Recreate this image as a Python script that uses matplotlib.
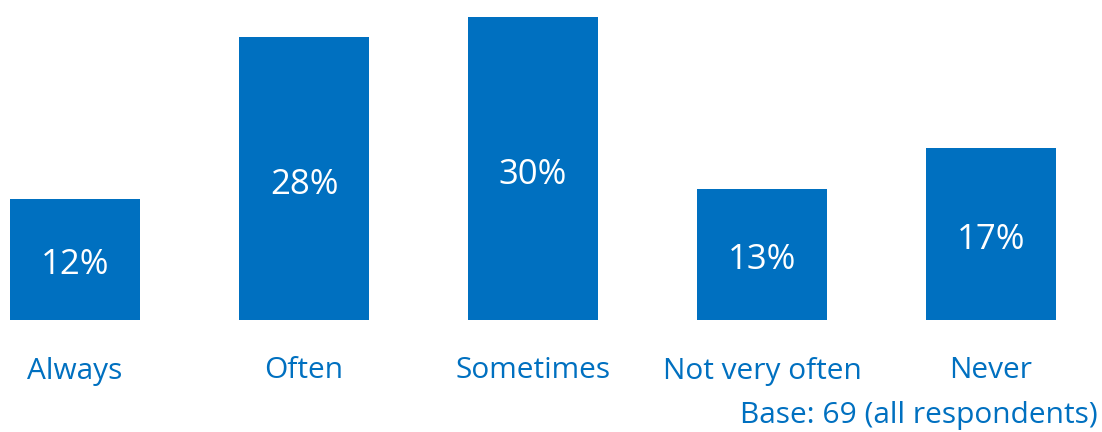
import matplotlib
matplotlib.use("Agg")
import matplotlib.pyplot as plt

# ── Data ────────────────────────────────────────────────────
categories = ["Always", "Often", "Sometimes", "Not very often", "Never"]
values     = [12, 28, 30, 13, 17]
base_note  = "Base: 69 (all respondents)"

BLUE = "#0070C0"
plt.rcParams["font.family"] = ["Open Sans", "DejaVu Sans"]

# ── Plot ────────────────────────────────────────────────────
W, H = 1102, 432
fig = plt.figure(figsize=(W / 100, H / 100), dpi=100)
ax = fig.add_axes([10 / W, 112 / H, 1046 / W, 303 / H])

x = list(range(len(categories)))
bw = 0.568
ax.bar(x, values, width=bw, color=BLUE)
ax.set_xlim(-bw / 2, len(categories) - 1 + bw / 2)
ax.set_ylim(0, 30)

for xi, v in zip(x, values):
    ax.annotate(f"{v}%", (xi, v / 2), xytext=(0, -6), textcoords="offset pixels",
                ha="center", va="center", color="white", fontsize=25)

for xi, cat in zip(x, categories):
    ax.annotate(cat, (xi, 0), xytext=(0, -51), textcoords="offset pixels",
                ha="center", va="center", color=BLUE, fontsize=21.5)

ax.axis("off")
fig.text(1098 / W, 1 - 415 / H, base_note, ha="right", va="center",
         color=BLUE, fontsize=21.5)

fig.savefig("out.png", dpi=100)
